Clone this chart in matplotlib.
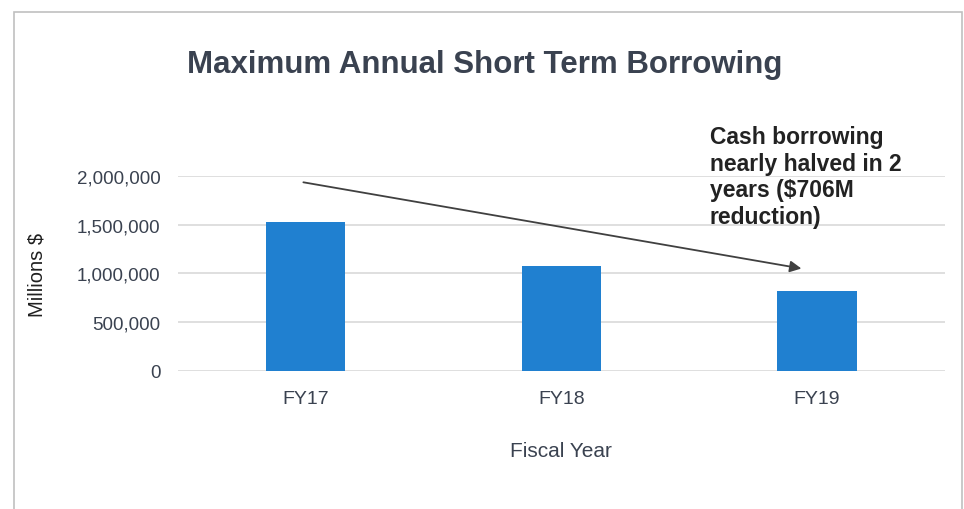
import matplotlib.pyplot as plt
from matplotlib.patches import Rectangle

# Chart data
years = ["FY17", "FY18", "FY19"]
borrowing = [1530000, 1075000, 824000]
y_ticks = [0, 500000, 1000000, 1500000, 2000000]
note = "Cash borrowing\nnearly halved in 2\nyears ($706M\nreduction)"

plt.rcParams['font.family'] = ['Liberation Sans', 'DejaVu Sans']

fig = plt.figure(figsize=(9.64, 5.1), dpi=100)
ax = fig.add_axes([0.1846, 0.2706, 0.7954, 0.3824])

# Chart frame
fig.patches.append(Rectangle((14 / 964, -0.05), 948 / 964, 1.05 - 13 / 510,
                             transform=fig.transFigure, fill=False,
                             edgecolor='#c0c0c0', linewidth=1.2))

x = list(range(len(years)))
ax.bar(x, borrowing, width=0.31, color='#2080d0', zorder=3)

ax.set_xlim(-0.5, 2.5)
ax.set_ylim(0, 2000000)
ax.set_yticks(y_ticks)
ax.set_yticklabels([f"{v:,}" for v in y_ticks], fontsize=13.5, color='#3a4250')
ax.set_xticks(x)
ax.set_xticklabels(years, fontsize=14, color='#3a4250')
ax.tick_params(length=0)
ax.tick_params(axis='x', pad=14)
ax.tick_params(axis='y', pad=12.5)
ax.grid(axis='y', color='#d9d9d9', linewidth=1.2, zorder=0)
for s in ax.spines.values():
    s.set_visible(False)

ax.set_ylabel("Millions $", fontsize=14.5, color='#202020', labelpad=22)
ax.set_xlabel("Fiscal Year", fontsize=15, color='#3a4250', labelpad=24)

# Trend arrow and note
ax.annotate("", xy=(1.95, 1046000), xytext=(-0.02, 1940000),
            arrowprops=dict(arrowstyle='-|>', color='#404040', lw=1.3,
                            mutation_scale=17), annotation_clip=False)
ax.text(1.58, 2520000, note, fontsize=16.5, fontweight='bold', color='#222222',
        va='top', ha='left', linespacing=1.2, clip_on=False)

fig.text(0.503, 0.872, "Maximum Annual Short Term Borrowing", ha='center',
         va='center', fontsize=22.5, fontweight='bold', color='#3a4250')

fig.savefig("out.png", dpi=100)
